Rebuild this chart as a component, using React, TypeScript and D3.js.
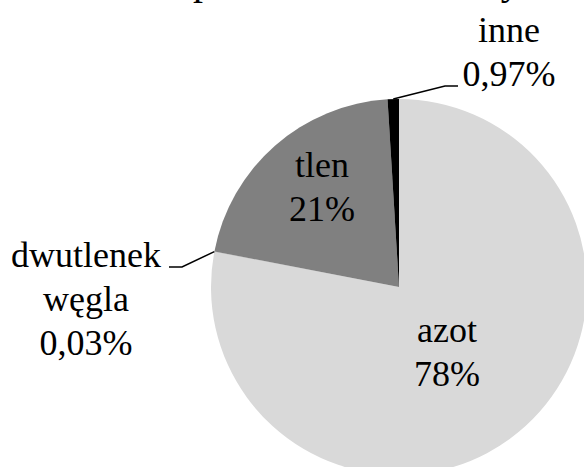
import React, { useEffect, useRef } from 'react';
import * as d3 from 'd3';

// Chart data
const categories = ['azot', 'dwutlenek węgla', 'tlen', 'inne'];
const values = [78, 0.03, 21, 0.97];
const valueLabels = ['78%', '0,03%', '21%', '0,97%'];
const labelLines = [['azot', '78%'], ['dwutlenek', 'węgla', '0,03%'], ['tlen', '21%'], ['inne', '0,97%']];
const sliceColors = ['#d9d9d9', '#a5a5a5', '#808080', '#000000'];
const titleText = 'Skład powietrza atmosferycznego';

const W = 584;
const H = 467;

// label placement relative to pie centre (first baseline); leader = [elbow, end] or null
const labelLayout = [
  { dx: 48, dy: 55, leader: null as null | number[][] },
  { dx: -313, dy: -20, leader: [[-217, -20], [-230, -20]] },
  { dx: -77, dy: -110, leader: null },
  { dx: 110, dy: -245, leader: [[46, -201], [59, -201]] },
];

export default function App() {
  const ref = useRef<SVGSVGElement>(null);

  useEffect(() => {
    if (!ref.current) return;
    const svg = d3.select(ref.current);
    svg.selectAll('*').remove();

    const cx = 399;
    const cy = 287;
    const r = 188;
    const font = "'Times New Roman', 'Liberation Serif', Tinos, 'DejaVu Serif', serif";
    const fs = 36;
    const lh = 44;

    svg.append('rect').attr('width', W).attr('height', H).attr('fill', '#ffffff');

    // Title (mostly cropped at top of the picture)
    svg.append('text')
      .attr('x', 92)
      .attr('y', -6)
      .style('font-family', font)
      .attr('font-size', 40)
      .attr('fill', '#000')
      .text(titleText);

    const pie = d3.pie<number>().sort(null).value(d => d);
    const arcs = pie(values);
    const arc = d3.arc<d3.PieArcDatum<number>>().innerRadius(0).outerRadius(r);

    const g = svg.append('g').attr('transform', `translate(${cx},${cy})`);

    g.selectAll('path.slice')
      .data(arcs)
      .join('path')
      .attr('class', 'slice')
      .attr('d', arc)
      .attr('fill', (_, i) => sliceColors[i]);

    // Leader lines
    arcs.forEach((a, i) => {
      const lay = labelLayout[i];
      if (!lay.leader) return;
      const mid = (a.startAngle + a.endAngle) / 2;
      const sx = Math.sin(mid) * r;
      const sy = -Math.cos(mid) * r;
      const pts: [number, number][] = [[sx, sy], ...lay.leader.map(p => [p[0], p[1]] as [number, number])];
      g.append('path')
        .attr('d', d3.line()(pts))
        .attr('fill', 'none')
        .attr('stroke', '#000')
        .attr('stroke-width', 1.5);
    });

    // Data labels
    labelLines.forEach((lines, i) => {
      const lay = labelLayout[i];
      const t = g.append('text')
        .style('font-family', font)
        .attr('font-size', fs)
        .attr('fill', '#000')
        .attr('text-anchor', 'middle');
      lines.forEach((ln, j) => {
        t.append('tspan')
          .attr('x', lay.dx)
          .attr('y', lay.dy + j * lh)
          .text(ln);
      });
    });
  }, []);

  return (
    <svg
      ref={ref}
      width={W}
      height={H}
      viewBox={`0 0 ${W} ${H}`}
      style={{ position: 'fixed', left: 0, top: 0, display: 'block' }}
      aria-label={categories.map((c, i) => `${c} ${valueLabels[i]}`).join(', ')}
    />
  );
}
